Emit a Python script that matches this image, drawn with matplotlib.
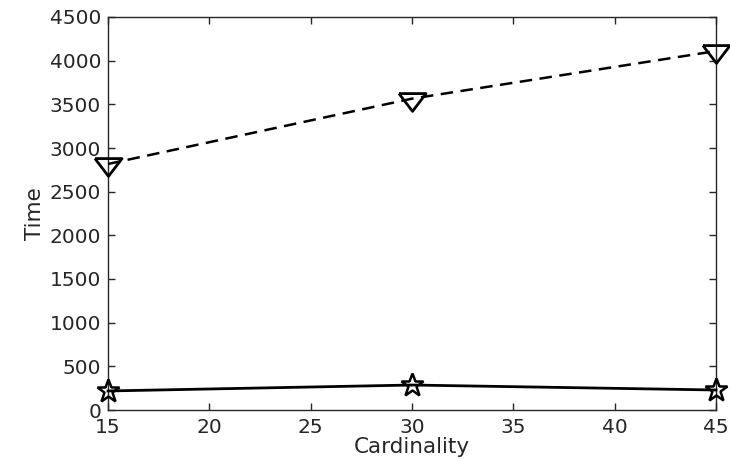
import numpy as np
import matplotlib.pyplot as plt

plt.rcParams['font.family'] = ['DejaVu Sans']

cardinality = [15, 30, 45]
time_dashed = [2817, 3565, 4110]
time_solid = [218, 286, 229]

# MATLAB-style down triangle, centred on its centroid
tri = [(-1, 0.437), (1, 0.437), (0, -0.874), (-1, 0.437)]

fig = plt.figure(figsize=(7.3, 4.59), dpi=100)
ax = fig.add_axes([108/730, 1 - 410/459, 608/730, 393/459])

ax.plot(cardinality, time_dashed, color='black', linestyle='--', linewidth=1.8,
        dashes=(5, 3), marker=tri, markersize=19.5, markerfacecolor='none',
        markeredgewidth=2, clip_on=False, zorder=5)
ax.plot(cardinality, time_solid, color='black', linestyle='-', linewidth=2,
        marker='*', markersize=17, markerfacecolor='none', markeredgewidth=1.8,
        clip_on=False, zorder=5)

ax.set_xlim(15, 45)
ax.set_ylim(0, 4500)
ax.set_xticks(np.arange(15, 46, 5))
ax.set_yticks(np.arange(0, 4501, 500))
ax.tick_params(direction='in', length=5, width=1, labelsize=14.5, top=True,
               right=True, pad=5, colors='#262626')
ax.tick_params(axis='x', pad=5.5)
for s in ax.spines.values():
    s.set_linewidth(1)
    s.set_color('#262626')
ax.set_xlabel('Cardinality', fontsize=15.5, labelpad=0.5, color='#262626')
ax.set_ylabel('Time', fontsize=15.5, labelpad=3, color='#262626')

fig.savefig('out.png', dpi=100)
